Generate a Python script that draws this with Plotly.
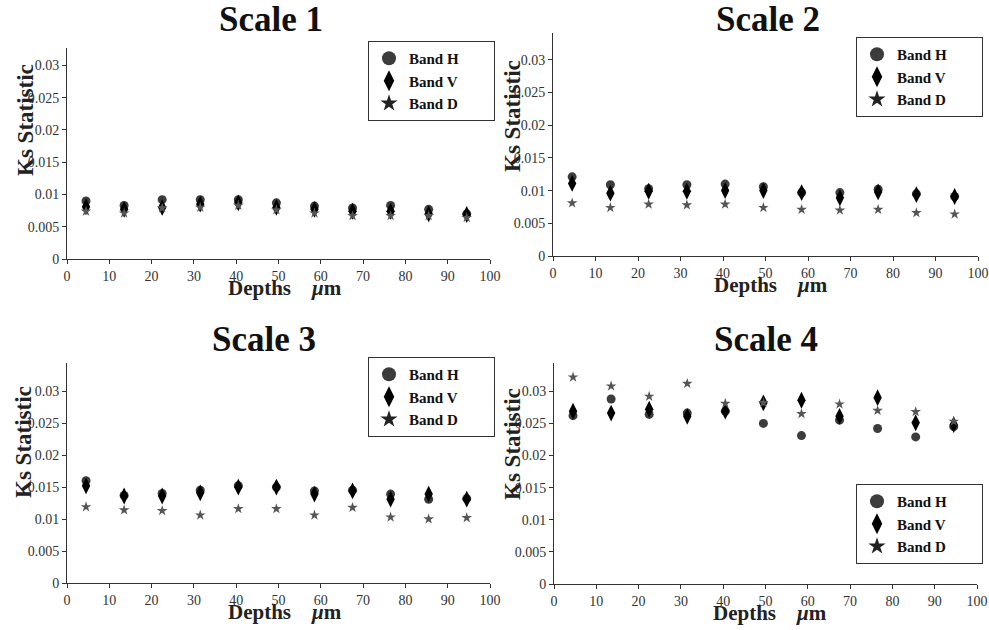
import plotly.graph_objects as go

depths = [4.5, 13.5, 22.5, 31.5, 40.5, 49.5, 58.5, 67.5, 76.5, 85.5, 94.5]
titles = ["Scale 1", "Scale 2", "Scale 3", "Scale 4"]
band_names = ["Band H", "Band V", "Band D"]

s1_h = [0.0090, 0.0083, 0.0092, 0.0092, 0.0092, 0.0087, 0.0082, 0.0079, 0.0083, 0.0077, 0.0070]
s1_v = [0.0081, 0.0077, 0.0080, 0.0085, 0.0087, 0.0080, 0.0077, 0.0074, 0.0074, 0.0070, 0.0069]
s1_d = [0.0074, 0.0071, 0.0079, 0.0080, 0.0083, 0.0076, 0.0071, 0.0067, 0.0067, 0.0067, 0.0064]

s2_h = [0.0121, 0.0109, 0.0103, 0.0109, 0.0110, 0.0106, 0.0097, 0.0097, 0.0102, 0.0095, 0.0091]
s2_v = [0.0111, 0.0096, 0.0099, 0.0099, 0.0100, 0.0100, 0.0097, 0.0089, 0.0098, 0.0094, 0.0091]
s2_d = [0.0081, 0.0074, 0.0079, 0.0078, 0.0079, 0.0074, 0.0071, 0.0070, 0.0071, 0.0066, 0.0064]

s3_h = [0.0160, 0.0137, 0.0140, 0.0145, 0.0152, 0.0150, 0.0144, 0.0145, 0.0139, 0.0131, 0.0132]
s3_v = [0.0152, 0.0136, 0.0136, 0.0141, 0.0150, 0.0150, 0.0139, 0.0144, 0.0131, 0.0139, 0.0131]
s3_d = [0.0119, 0.0114, 0.0113, 0.0106, 0.0116, 0.0116, 0.0106, 0.0118, 0.0103, 0.0100, 0.0102]

s4_h = [0.0262, 0.0288, 0.0264, 0.0266, 0.0269, 0.0250, 0.0231, 0.0255, 0.0242, 0.0229, 0.0245]
s4_v = [0.0269, 0.0266, 0.0272, 0.0261, 0.0269, 0.0282, 0.0286, 0.0261, 0.0290, 0.0251, 0.0248]
s4_d = [0.0322, 0.0308, 0.0292, 0.0312, 0.0281, 0.0282, 0.0265, 0.0280, 0.0270, 0.0268, 0.0253]

yticks = [0, 0.005, 0.01, 0.015, 0.02, 0.025, 0.03]
ytick_labels = ["0", "0.005", "0.01", "0.015", "0.02", "0.025", "0.03"]
xticks = [0, 10, 20, 30, 40, 50, 60, 70, 80, 90, 100]

series = [(s1_h, s1_v, s1_d), (s2_h, s2_v, s2_d), (s3_h, s3_v, s3_d), (s4_h, s4_v, s4_d)]

W, H = 989, 630


def px(x):
    return x / W


def py(y):
    return 1 - y / H


# reference pixel boxes (x0, x1, ytop, ybottom)
boxes = [(67, 490, 48, 259), (553, 978, 33, 256), (67, 490, 363, 583), (554, 977, 363, 584)]
ymax = [0.0327, 0.0341, 0.0344, 0.0344]
legend_pos = [(368, 41), (856, 37), (368, 357), (856, 484)]
title_pos = [(271, 19), (768, 19), (264, 339), (766, 339)]
ytitle_pos = [(25, 120), (512, 116), (24, 442), (512, 444)]
xtitle_pos = [(285, 288), (771, 285), (285, 612), (770, 613)]

FONT = "Liberation Serif"
PAD = "\u00a0" * 8
styles = [
    dict(symbol="circle", color="#3c3c3c", size=9, lsize=14),
    dict(symbol="diamond-tall", color="#000000", size=12, lsize=15),
    dict(symbol="star", color="#555555", size=8, lsize=13),
]

fig = go.Figure()
layout = dict(width=W, height=H, margin=dict(l=0, r=0, t=0, b=0),
              paper_bgcolor="white", plot_bgcolor="white", showlegend=True,
              font=dict(family=FONT, color="#222"))
annotations = []

for i in range(4):
    xa = "x" if i == 0 else f"x{i+1}"
    ya = "y" if i == 0 else f"y{i+1}"
    lg = "legend" if i == 0 else f"legend{i+1}"
    for j, vals in enumerate(series[i]):
        st = styles[j]
        fig.add_trace(go.Scatter(
            x=depths, y=vals, mode="markers", name=band_names[j],
            xaxis=xa, yaxis=ya, showlegend=False,
            marker=dict(symbol=st["symbol"], color=st["color"], size=st["size"],
                        line=dict(width=0)),
        ))
    for j in range(3):
        st = styles[j]
        fig.add_trace(go.Scatter(
            x=[None], y=[None], mode="markers", name=band_names[j] + PAD,
            xaxis=xa, yaxis=ya, legend=lg, showlegend=True,
            marker=dict(symbol=st["symbol"], color=st["color"] if j != 2 else "#222",
                        size=st["lsize"], line=dict(width=0)),
        ))
    x0, x1, yt, yb = boxes[i]
    axkey = "xaxis" if i == 0 else f"xaxis{i+1}"
    aykey = "yaxis" if i == 0 else f"yaxis{i+1}"
    layout[axkey] = dict(domain=[px(x0), px(x1)], range=[0, 100], anchor=ya,
                         tickvals=xticks, ticks="outside", ticklen=4, tickcolor="#333",
                         showline=True, linecolor="#333", linewidth=1, showgrid=False,
                         zeroline=False, automargin=False, ticklabeloverflow="allow",
                         tickfont=dict(family=FONT, size=14, color="#333"))
    layout[aykey] = dict(domain=[py(yb), py(yt)], range=[0, ymax[i]], anchor=xa,
                         tickvals=yticks, ticktext=ytick_labels, ticks="outside", ticklen=4,
                         tickcolor="#333", showline=True, linecolor="#333", linewidth=1,
                         showgrid=False, zeroline=False, automargin=False,
                         ticklabeloverflow="allow",
                         tickfont=dict(family=FONT, size=14, color="#333"))
    lx, ly = legend_pos[i]
    layout[lg] = dict(x=px(lx), y=py(ly), xanchor="left", yanchor="top",
                      bgcolor="white", bordercolor="#333", borderwidth=1,
                      font=dict(family=FONT, size=15, color="#111", weight="bold"),
                      itemsizing="trace", tracegroupgap=0, itemwidth=30,
                      itemclick=False, itemdoubleclick=False)
    tx, ty = title_pos[i]
    annotations.append(dict(text="<b>" + titles[i] + "</b>", x=px(tx), y=py(ty),
                            xref="paper", yref="paper", showarrow=False,
                            xanchor="center", yanchor="middle",
                            font=dict(family=FONT, size=35, color="#111")))
    ax_, ay_ = ytitle_pos[i]
    annotations.append(dict(text="<b>Ks Statistic</b>", x=px(ax_), y=py(ay_),
                            xref="paper", yref="paper", showarrow=False, textangle=-90,
                            xanchor="center", yanchor="middle",
                            font=dict(family=FONT, size=23, color="#222")))
    bx, by = xtitle_pos[i]
    annotations.append(dict(text="<b>Depths    <i>μ</i>m</b>", x=px(bx), y=py(by),
                            xref="paper", yref="paper", showarrow=False,
                            xanchor="center", yanchor="middle",
                            font=dict(family=FONT, size=21, color="#222")))

layout["annotations"] = annotations
fig.update_layout(**layout)
fig.write_html("out.html", config={"displayModeBar": False},
               post_script="document.body.style.margin='0';document.body.style.overflow='hidden';")
